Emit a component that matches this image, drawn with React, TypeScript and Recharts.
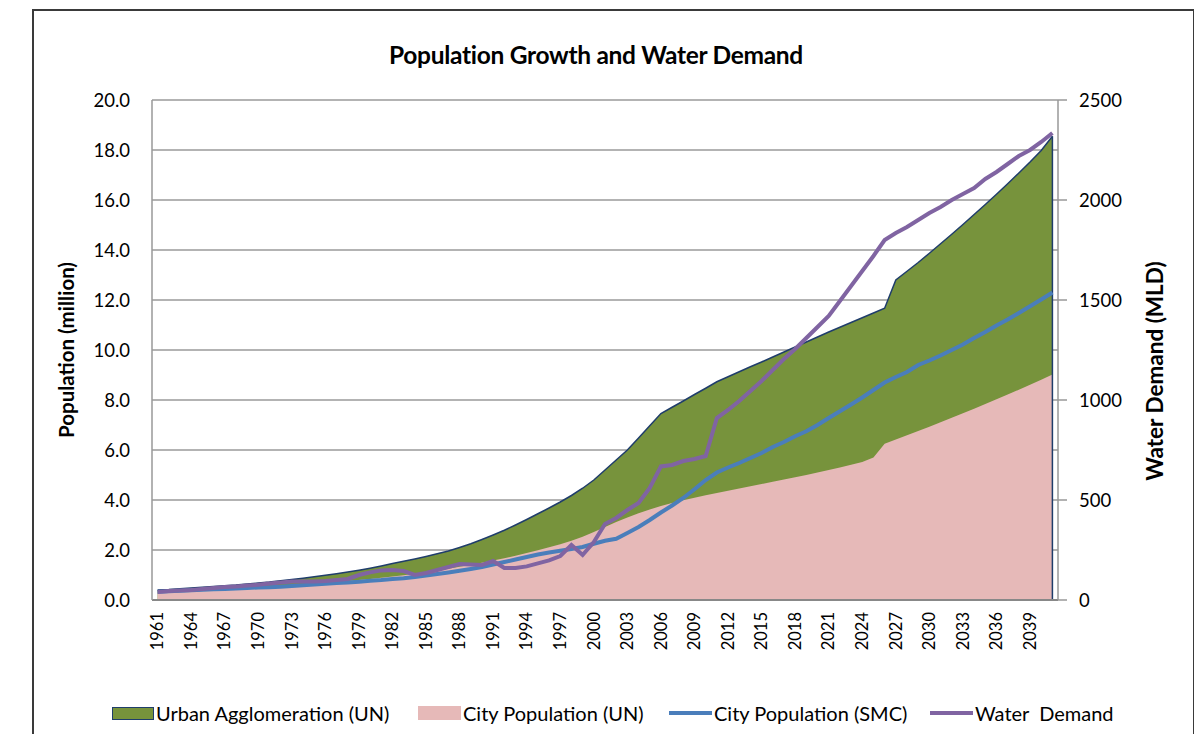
import React from "react";
import { ComposedChart, Area, Line, XAxis, YAxis, CartesianGrid, ReferenceLine } from "recharts";

const years = [
  1961, 1962, 1963, 1964, 1965, 1966, 1967, 1968, 1969, 1970,
  1971, 1972, 1973, 1974, 1975, 1976, 1977, 1978, 1979, 1980,
  1981, 1982, 1983, 1984, 1985, 1986, 1987, 1988, 1989, 1990,
  1991, 1992, 1993, 1994, 1995, 1996, 1997, 1998, 1999, 2000,
  2001, 2002, 2003, 2004, 2005, 2006, 2007, 2008, 2009, 2010,
  2011, 2012, 2013, 2014, 2015, 2016, 2017, 2018, 2019, 2020,
  2021, 2022, 2023, 2024, 2025, 2026, 2027, 2028, 2029, 2030,
  2031, 2032, 2033, 2034, 2035, 2036, 2037, 2038, 2039, 2040,
  2041,
];

const yearTicks = [
  1961, 1964, 1967, 1970, 1973, 1976, 1979, 1982, 1985, 1988, 1991, 1994, 1997,
  2000, 2003, 2006, 2009, 2012, 2015, 2018, 2021, 2024, 2027, 2030, 2033, 2036, 2039,
];

// million
const urbanUN = [
  0.40, 0.42, 0.45, 0.48, 0.51, 0.54, 0.57, 0.60, 0.64, 0.68,
  0.72, 0.77, 0.82, 0.87, 0.93, 0.99, 1.05, 1.12, 1.19, 1.27,
  1.36, 1.46, 1.55, 1.64, 1.74, 1.85, 1.96, 2.10, 2.25, 2.42,
  2.60, 2.79, 3.00, 3.22, 3.45, 3.68, 3.92, 4.18, 4.47, 4.80,
  5.20, 5.60, 6.00, 6.48, 6.97, 7.46, 7.71, 7.96, 8.22, 8.47,
  8.73, 8.93, 9.13, 9.33, 9.52, 9.72, 9.92, 10.12, 10.32, 10.52,
  10.72, 10.91, 11.10, 11.29, 11.48, 11.67, 12.80, 13.15, 13.50, 13.87,
  14.25, 14.63, 15.02, 15.42, 15.82, 16.23, 16.65, 17.08, 17.52, 17.98,
  18.55,
];

const cityUN = [
  0.28, 0.30, 0.32, 0.34, 0.36, 0.38, 0.40, 0.43, 0.46, 0.49,
  0.52, 0.55, 0.58, 0.61, 0.64, 0.68, 0.72, 0.76, 0.80, 0.84,
  0.89, 0.94, 0.99, 1.05, 1.11, 1.18, 1.25, 1.33, 1.41, 1.49,
  1.58, 1.67, 1.77, 1.88, 1.99, 2.11, 2.23, 2.37, 2.53, 2.72,
  2.92, 3.12, 3.30, 3.47, 3.62, 3.76, 3.88, 3.99, 4.09, 4.19,
  4.28, 4.37, 4.46, 4.55, 4.64, 4.73, 4.82, 4.91, 5.00, 5.10,
  5.20, 5.30, 5.41, 5.52, 5.70, 6.25, 6.42, 6.59, 6.76, 6.93,
  7.11, 7.29, 7.47, 7.65, 7.84, 8.03, 8.22, 8.41, 8.61, 8.81,
  9.02,
];

const citySMC = [
  0.33, 0.35, 0.37, 0.39, 0.41, 0.43, 0.44, 0.46, 0.48, 0.50,
  0.51, 0.53, 0.56, 0.59, 0.62, 0.65, 0.68, 0.70, 0.73, 0.77,
  0.80, 0.84, 0.87, 0.92, 0.98, 1.04, 1.10, 1.17, 1.24, 1.32,
  1.42, 1.52, 1.62, 1.72, 1.82, 1.90, 1.97, 2.04, 2.12, 2.25,
  2.37, 2.45, 2.68, 2.92, 3.20, 3.50, 3.78, 4.08, 4.43, 4.80,
  5.10, 5.30, 5.48, 5.68, 5.88, 6.12, 6.32, 6.55, 6.75, 7.00,
  7.28, 7.55, 7.82, 8.10, 8.40, 8.70, 8.92, 9.12, 9.40, 9.58,
  9.78, 10.00, 10.22, 10.48, 10.72, 10.98, 11.22, 11.48, 11.75, 12.02,
  12.30,
];

// MLD
const waterDemand = [
  40, 45, 48, 50, 55, 60, 65, 68, 72, 76,
  82, 88, 92, 92, 92, 95, 100, 105, 125, 138,
  148, 150, 145, 125, 135, 150, 165, 180, 178, 175,
  195, 160, 160, 168, 183, 198, 220, 275, 225, 290,
  380, 410, 450, 485, 560, 668, 675, 695, 705, 720,
  910, 950, 995, 1045, 1095, 1150, 1205, 1255, 1310, 1365,
  1420, 1495, 1570, 1645, 1720, 1800, 1835, 1865, 1900, 1935,
  1965, 2000, 2030, 2060, 2105, 2140, 2180, 2220, 2250, 2290,
  2335,
];

const popTicks = [0, 2, 4, 6, 8, 10, 12, 14, 16, 18, 20];
const waterTicks = [0, 500, 1000, 1500, 2000, 2500];

const data = years.map((year, i) => ({
  year,
  urban: urbanUN[i],
  city: cityUN[i],
  smc: citySMC[i],
  water: waterDemand[i],
}));

const FONT = "Lato, 'Open Sans', sans-serif";
const GREEN = "#77933C";
const PINK = "#E6B9B8";
const BLUE = "#4A7EBB";
const PURPLE = "#8064A2";
const NAVY = "#1F3D6B";

const YearTick = ({ x, y, payload }: any) => (
  <g transform={`translate(${x},${y})`}>
    <text transform="rotate(-90)" x={-12} dy="0.35em" textAnchor="end" fontSize={16.5} fill="#000" fontFamily={FONT}>
      {payload.value}
    </text>
  </g>
);

const legendItems = [
  { label: "Urban Agglomeration (UN)", kind: "box", color: GREEN, left: 112 },
  { label: "City Population (UN)", kind: "fill", color: PINK, left: 418 },
  { label: "City Population (SMC)", kind: "line", color: BLUE, left: 669 },
  { label: "Water  Demand", kind: "line", color: PURPLE, left: 930 },
];

export default function App() {
  const last = years.length - 1;
  return (
    <div style={{ position: "relative", width: 1202, height: 742, margin: -8, overflow: "hidden", background: "#fff", fontFamily: FONT }}>
      <div style={{ position: "absolute", left: 32, top: 9, width: 1159, height: 800, border: "2px solid #3a3a3a", borderBottom: "none" }} />
      <div style={{ position: "absolute", left: 596, top: 40, transform: "translateX(-50%)", fontSize: 24.5, fontWeight: 700, whiteSpace: "nowrap", color: "#000", letterSpacing: -0.3 }}>
        Population Growth and Water Demand
      </div>
      <div style={{ position: "absolute", left: 66, top: 350, transform: "translate(-50%,-50%) rotate(-90deg)", fontSize: 20.5, fontWeight: 700, whiteSpace: "nowrap" }}>
        Population (million)
      </div>
      <div style={{ position: "absolute", left: 1154, top: 371, transform: "translate(-50%,-50%) rotate(-90deg)", fontSize: 22.5, fontWeight: 700, whiteSpace: "nowrap" }}>
        Water Demand (MLD)
      </div>

      <div style={{ position: "absolute", left: 0, top: 0 }}>
        <ComposedChart width={1202} height={742} data={data} margin={{ top: 100, right: 74, bottom: 72, left: 92 }}>
          <CartesianGrid yAxisId="left" vertical={false} horizontal stroke="#9a9a9a" strokeWidth={1.5} />
          <XAxis
            dataKey="year"
            type="number"
            domain={[1960.5, 2041.5]}
            ticks={yearTicks}
            interval={0}
            tick={<YearTick />}
            tickLine={false}
            tickSize={0}
            tickMargin={0}
            axisLine={{ stroke: "#888", strokeWidth: 2 }}
            height={70}
          />
          <YAxis
            yAxisId="left"
            domain={[0, 20]}
            ticks={popTicks}
            tickFormatter={(v: number) => v.toFixed(1)}
            tickLine={false}
            tickSize={0}
            tickMargin={22}
            axisLine={{ stroke: "#999", strokeWidth: 1.5 }}
            tick={{ fontSize: 18.5, fill: "#000", fontFamily: FONT }}
            width={60}
          />
          <YAxis
            yAxisId="right"
            orientation="right"
            domain={[0, 2500]}
            ticks={waterTicks}
            tickSize={9}
            tickMargin={12}
            tickLine={{ stroke: "#999", strokeWidth: 1.5 }}
            axisLine={{ stroke: "#999", strokeWidth: 1.5 }}
            tick={{ fontSize: 18.5, fill: "#000", fontFamily: FONT, textAnchor: "start" }}
            width={70}
          />
          <Area yAxisId="left" type="linear" dataKey="urban" fill={GREEN} fillOpacity={1} stroke={NAVY} strokeWidth={1.5} isAnimationActive={false} />
          <Area yAxisId="left" type="linear" dataKey="city" fill={PINK} fillOpacity={1} stroke="none" isAnimationActive={false} />
          <ReferenceLine
            yAxisId="left"
            segment={[{ x: years[last], y: 0 }, { x: years[last], y: urbanUN[last] }]}
            stroke={NAVY}
            strokeWidth={1.5}
          />
          <Line yAxisId="left" type="linear" dataKey="smc" stroke={BLUE} strokeWidth={4} dot={false} isAnimationActive={false} />
          <Line yAxisId="right" type="linear" dataKey="water" stroke={PURPLE} strokeWidth={4} dot={false} isAnimationActive={false} />
        </ComposedChart>
      </div>

      {legendItems.map((it) => (
        <div key={it.label} style={{ position: "absolute", left: it.left, top: 701, display: "flex", alignItems: "center", fontSize: 20, whiteSpace: "pre", color: "#000" }}>
          {it.kind === "line" ? (
            <span style={{ display: "inline-block", width: 43, height: 4, background: it.color, marginRight: 2 }} />
          ) : (
            <span
              style={{
                display: "inline-block",
                width: it.kind === "box" ? 40 : 43,
                height: it.kind === "box" ? 11 : 14,
                background: it.color,
                border: it.kind === "box" ? `1.5px solid ${NAVY}` : "none",
                marginRight: 2,
              }}
            />
          )}
          <span>{it.label}</span>
        </div>
      ))}
    </div>
  );
}
